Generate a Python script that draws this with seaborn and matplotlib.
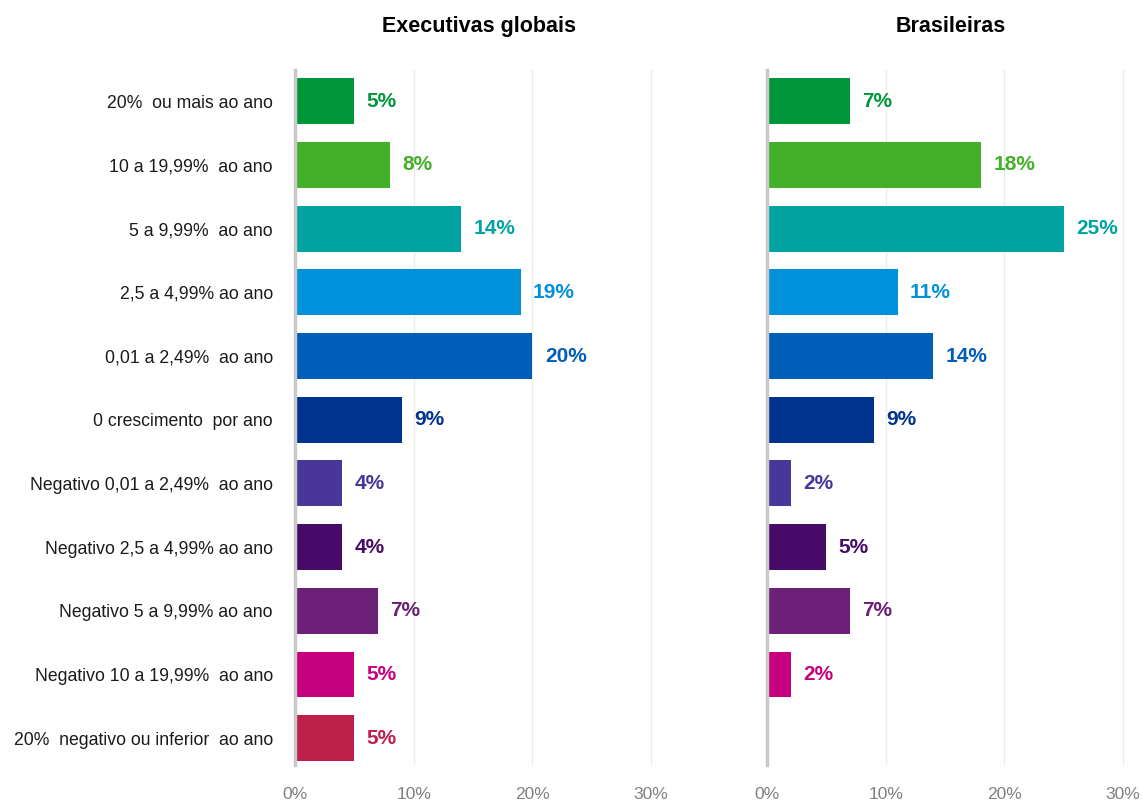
import numpy as np
import pandas as pd
import matplotlib
matplotlib.use("Agg")
import matplotlib.pyplot as plt
import seaborn as sns

categories = [
    "20%  ou mais ao ano",
    "10 a 19,99%  ao ano",
    "5 a 9,99%  ao ano",
    "2,5 a 4,99% ao ano",
    "0,01 a 2,49%  ao ano",
    "0 crescimento  por ano",
    "Negativo 0,01 a 2,49%  ao ano",
    "Negativo 2,5 a 4,99% ao ano",
    "Negativo 5 a 9,99% ao ano",
    "Negativo 10 a 19,99%  ao ano",
    "20%  negativo ou inferior  ao ano",
]
global_values = [5, 8, 14, 19, 20, 9, 4, 4, 7, 5, 5]
brazil_values = [7, 18, 25, 11, 14, 9, 2, 5, 7, 2, np.nan]
panel_titles = ["Executivas globais", "Brasileiras"]
x_ticks = [0, 10, 20, 30]

colors = [
    "#00973A", "#43B02A", "#00A3A1", "#0091DA", "#005EB8", "#00338D",
    "#483698", "#470A68", "#6D2077", "#C6007E", "#BC204B",
]

sns.set_theme(style="white")
plt.rcParams["font.family"] = ["Liberation Sans", "DejaVu Sans"]

fig = plt.figure(figsize=(11.43, 8.0), dpi=100)
W, H = 1143, 800
ax_top, ax_bot = 70, 765
px_per_pct = 11.87
xmax = 31
axes = []
for x0 in (295, 767):
    ax = fig.add_axes([x0 / W, 1 - ax_bot / H, xmax * px_per_pct / W, (ax_bot - ax_top) / H])
    axes.append(ax)

for ax, values, title in zip(axes, [global_values, brazil_values], panel_titles):
    df = pd.DataFrame({"cat": categories, "val": values})
    sns.barplot(data=df, y="cat", x="val", hue="cat", palette=colors, order=categories,
                hue_order=categories, orient="h", width=0.72, legend=False, ax=ax,
                saturation=1, edgecolor="none")
    ax.set_xlim(0, xmax)
    ax.set_ylim(len(categories) - 0.58, -0.49)
    ax.set_xticks(x_ticks)
    ax.set_xticklabels([f"{t}%" for t in x_ticks], color="#7f7f7f", fontsize=12.5)
    ax.tick_params(axis="x", length=0, pad=16)
    ax.set_xlabel("")
    ax.set_ylabel("")
    for t in x_ticks[1:]:
        ax.axvline(t, color="#ebebeb", lw=1, zorder=0)
    for s in ["top", "right", "bottom"]:
        ax.spines[s].set_visible(False)
    ax.spines["left"].set_color("#c8c8c8")
    ax.spines["left"].set_linewidth(2.5)
    for i, v in enumerate(values):
        if np.isnan(v):
            continue
        ax.annotate(f"{v:.0f}%", xy=(v, i), xytext=(9, 0), textcoords="offset points",
                    ha="left", va="center", fontsize=15, fontweight="bold", color=colors[i])
    ax.text(0.5, (ax_top - 26) / (ax_bot - ax_top) + 1, title, transform=ax.transAxes,
            ha="center", va="center", fontsize=15.5, fontweight="bold", color="black")

axes[0].set_yticks(range(len(categories)))
axes[0].set_yticklabels(categories, fontsize=12.7, color="#1a1a1a")
axes[0].tick_params(axis="y", length=0, pad=16)
axes[1].set_yticks([])

fig.savefig("out.png", dpi=100, facecolor="white")
